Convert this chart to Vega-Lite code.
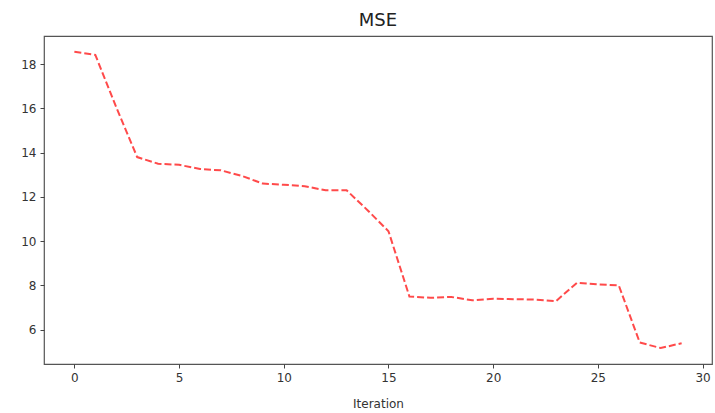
{
  "$schema": "https://vega.github.io/schema/vega-lite/v6.json",
  "width": 668,
  "height": 328,
  "autosize": {"type": "none"},
  "padding": {"left": 44, "top": 36, "right": 3, "bottom": 49},
  "background": "white",
  "title": {"text": "MSE", "fontSize": 18, "fontWeight": "normal", "font": "DejaVu Sans", "color": "#222", "anchor": "middle", "offset": 6},
  "config": {
    "view": {"stroke": "#555", "strokeWidth": 1.2},
    "axis": {"grid": false, "domain": false, "labelFont": "DejaVu Sans", "labelFontSize": 12, "labelColor": "#333", "labelPadding": 4, "tickColor": "#444", "tickSize": 4, "titleFont": "DejaVu Sans", "titleFontSize": 12, "titleFontWeight": "normal", "titleColor": "#333"}
  },
  "data": {"values": [
    {"Iteration": 0, "MSE": 18.56},
    {"Iteration": 1, "MSE": 18.42},
    {"Iteration": 2, "MSE": 16.05},
    {"Iteration": 3, "MSE": 13.8},
    {"Iteration": 4, "MSE": 13.5},
    {"Iteration": 5, "MSE": 13.45},
    {"Iteration": 6, "MSE": 13.26},
    {"Iteration": 7, "MSE": 13.2},
    {"Iteration": 8, "MSE": 12.95},
    {"Iteration": 9, "MSE": 12.6},
    {"Iteration": 10, "MSE": 12.55},
    {"Iteration": 11, "MSE": 12.48},
    {"Iteration": 12, "MSE": 12.3},
    {"Iteration": 13, "MSE": 12.3},
    {"Iteration": 14, "MSE": 11.4},
    {"Iteration": 15, "MSE": 10.45},
    {"Iteration": 16, "MSE": 7.5},
    {"Iteration": 17, "MSE": 7.44},
    {"Iteration": 18, "MSE": 7.48},
    {"Iteration": 19, "MSE": 7.33},
    {"Iteration": 20, "MSE": 7.4},
    {"Iteration": 21, "MSE": 7.38},
    {"Iteration": 22, "MSE": 7.36},
    {"Iteration": 23, "MSE": 7.29},
    {"Iteration": 24, "MSE": 8.12},
    {"Iteration": 25, "MSE": 8.05},
    {"Iteration": 26, "MSE": 8.0},
    {"Iteration": 27, "MSE": 5.42},
    {"Iteration": 28, "MSE": 5.17},
    {"Iteration": 29, "MSE": 5.39}
  ]},
  "mark": {"type": "line", "color": "#ff2a2a", "opacity": 0.85, "strokeWidth": 2, "strokeDash": [7, 3]},
  "encoding": {
    "x": {"field": "Iteration", "type": "quantitative", "scale": {"domain": [-1.45, 30.45], "nice": false, "zero": false}, "axis": {"values": [0, 5, 10, 15, 20, 25, 30], "title": "Iteration", "titlePadding": 15}},
    "y": {"field": "MSE", "type": "quantitative", "scale": {"domain": [4.45, 19.27], "nice": false, "zero": false}, "axis": {"values": [6, 8, 10, 12, 14, 16, 18], "title": null}}
  }
}
